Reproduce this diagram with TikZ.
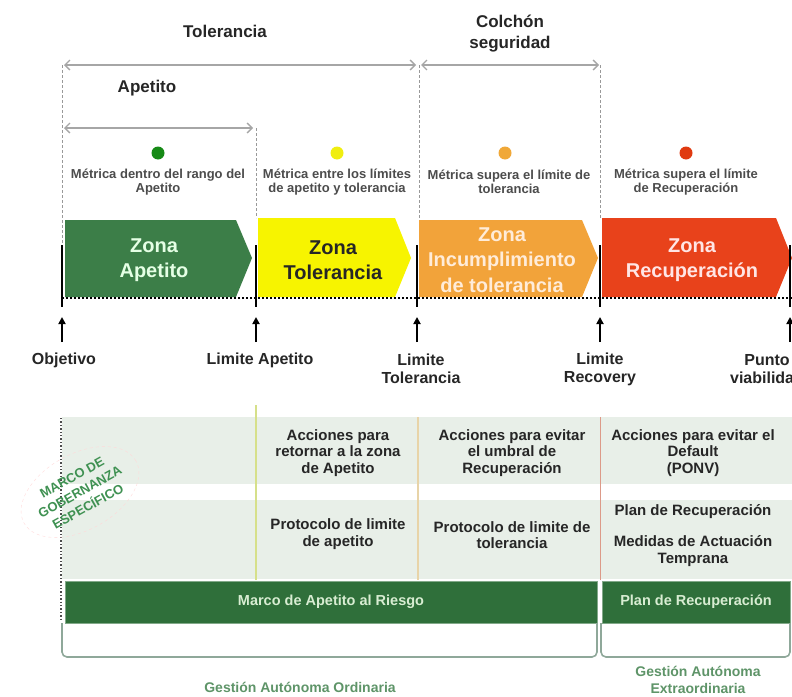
\documentclass[tikz,border=0pt]{standalone}
\usepackage{fontspec}
\setmainfont{Liberation Sans}
\usetikzlibrary{arrows.meta,shapes.geometric}
\definecolor{zgreen}{HTML}{3C7E48}
\definecolor{zyellow}{HTML}{F7F400}
\definecolor{zorange}{HTML}{F2A33A}
\definecolor{zred}{HTML}{E8421B}
\definecolor{dgreen}{HTML}{168A16}
\definecolor{dyellow}{HTML}{F0EE10}
\definecolor{dorange}{HTML}{F0A838}
\definecolor{dred}{HTML}{E03A10}
\definecolor{bandc}{HTML}{E8EFE8}
\definecolor{barg}{HTML}{2F6F3A}
\definecolor{bartxt}{HTML}{D8EDD2}
\definecolor{brkc}{HTML}{8FA89A}
\definecolor{gestc}{HTML}{5E9468}
\definecolor{govc}{HTML}{3F9152}
\definecolor{sepy}{HTML}{D6E08A}
\definecolor{sepo}{HTML}{E8D4A8}
\definecolor{sepr}{HTML}{DC9A88}
\begin{document}
\begin{tikzpicture}[x=1pt,y=-1pt,
  hdr/.style={font=\fontsize{17}{21}\selectfont\bfseries, text=black!85, align=center, inner sep=0pt},
  dimarrow/.style={draw=black!35, line width=1.3pt, {Straight Barb[length=5pt,width=10pt]}-{Straight Barb[length=5pt,width=10pt]}},
  guide/.style={draw=black!40, line width=0.6pt, dash pattern=on 3pt off 2pt},
  dotnode/.style={circle, minimum size=13pt, inner sep=0pt},
  desc/.style={font=\fontsize{13}{14.5}\selectfont\bfseries, text=black!70, align=center, inner sep=0pt},
  zonetxt/.style={font=\fontsize{20}{25.5}\selectfont\bfseries, align=center, inner sep=0pt},
  marker/.style={line width=2.6pt, draw=black},
  uparrow/.style={-{Triangle[length=7pt,width=7pt]}, line width=2.2pt, draw=black},
  lim/.style={font=\fontsize{16}{18}\selectfont\bfseries, text=black!85, align=center, inner sep=0pt},
  tbl/.style={font=\fontsize{15}{16.5}\selectfont\bfseries, text=black!85, align=center, inner sep=0pt},
  bar/.style={fill=barg, draw=barg!60!white, line width=0.8pt, text=bartxt, font=\fontsize{14.5}{17}\selectfont\bfseries, minimum height=42pt, inner sep=0pt},
  brk/.style={draw=brkc, line width=1.6pt, rounded corners=5pt},
  gest/.style={font=\fontsize{14}{17}\selectfont\bfseries, text=gestc, align=center, inner sep=0pt},
]
\useasboundingbox (0,0) rectangle (792,696);
\clip (0,0) rectangle (792,696);

% ---------- key coordinates ----------
\coordinate (tolL) at (64,65);   \coordinate (tolR) at (416,65);
\coordinate (colL) at (421,65);  \coordinate (colR) at (599,65);
\coordinate (apL)  at (64,128);  \coordinate (apR)  at (253,128);

% ---------- headings and dimension arrows ----------
\node[hdr] (hTol) at (225,31) {Tolerancia};
\node[hdr] (hCol) at (510,34) {Colchón\\seguridad};
\node[hdr] (hAp)  at (147,88) {Apetito};
\draw[dimarrow] (tolL) -- (tolR);
\draw[dimarrow] (colL) -- (colR);
\draw[dimarrow] (apL) -- (apR);

% guides
\draw[guide] (62,65) -- (62,245);
\draw[guide] (256,128) -- (256,218);
\draw[guide] (419,65) -- (419,218);
\draw[guide] (600,65) -- (600,218);

% ---------- dots and descriptions ----------
\node[dotnode, fill=dgreen]  (d1) at (158,153) {};
\node[dotnode, fill=dyellow] (d2) at (337,153) {};
\node[dotnode, fill=dorange] (d3) at (505,153) {};
\node[dotnode, fill=dred]    (d4) at (686,153) {};
\node[desc] (t1) at (158,182) {Métrica dentro del rango del\\Apetito};
\node[desc] (t2) at (337,182) {Métrica entre los límites\\de apetito y tolerancia};
\node[desc] (t3) at (509,182) {Métrica supera el límite de\\tolerancia};
\node[desc] (t4) at (686,182) {Métrica supera el límite\\de Recuperación};

% ---------- zones ----------
\fill[zgreen]  (65,220) -- (236,220) -- (252,258) -- (236,297) -- (65,297) -- cycle;
\fill[zyellow] (258,218) -- (395,218) -- (411,258) -- (395,297) -- (258,297) -- cycle;
\fill[zorange] (419,220) -- (582,220) -- (598,258) -- (582,297) -- (419,297) -- cycle;
\fill[zred]    (602,218) -- (776,218) -- (792,258) -- (776,297) -- (602,297) -- cycle;
\node[zonetxt, text=white!90!green] (z1) at (154,260) {Zona\\Apetito};
\node[zonetxt, text=black!85]       (z2) at (333,260) {Zona\\Tolerancia};
\node[zonetxt, text=white!85!orange] (z3) at (502,260) {Zona\\Incumplimiento\\de tolerancia};
\node[zonetxt, text=white!90!red]   (z4) at (692,260) {Zona\\Recuperación};

% dotted axis and markers
\draw[line width=2pt, dotted] (62,298) -- (792,298);
\draw[marker] (62,245) -- (62,307);
\draw[marker] (256,245) -- (256,307);
\draw[marker] (417,245) -- (417,307);
\draw[marker] (600,245) -- (600,307);
\draw[marker] (790,245) -- (790,307);

% up arrows
\coordinate (a1b) at (62,342);  \coordinate (a1t) at (62,317);
\coordinate (a2b) at (256,342); \coordinate (a2t) at (256,317);
\coordinate (a3b) at (417,342); \coordinate (a3t) at (417,317);
\coordinate (a4b) at (600,342); \coordinate (a4t) at (600,317);
\coordinate (a5b) at (790,342); \coordinate (a5t) at (790,317);
\draw[uparrow] (a1b) -- (a1t);
\draw[uparrow] (a2b) -- (a2t);
\draw[uparrow] (a3b) -- (a3t);
\draw[uparrow] (a4b) -- (a4t);
\draw[uparrow] (a5b) -- (a5t);

\node[lim] (l1) at (64,360)  {Objetivo};
\node[lim] (l2) at (260,360) {Limite Apetito};
\node[lim] (l3) at (421,369) {Limite\\Tolerancia};
\node[lim] (l4) at (600,369) {Limite\\Recovery};
\node[lim] (l5) at (767,369) {Punto\\viabilidad};

% ---------- table ----------
\fill[bandc] (62,417) rectangle (792,484);
\fill[bandc] (62,500) rectangle (792,579);
\draw[sepy, line width=1.4pt] (256,405) -- (256,580);
\draw[sepo, line width=1.4pt] (418,417) -- (418,580);
\draw[sepr, line width=0.9pt] (600,417) -- (600,580);
\draw[black!70, line width=1.4pt, dotted] (61,418) -- (61,620);

\node[tbl] (c21) at (338,453) {Acciones para\\retornar a la zona\\de Apetito};
\node[tbl] (c22) at (338,534) {Protocolo de limite\\de apetito};
\node[tbl] (c31) at (512,453) {Acciones para evitar\\el umbral de\\Recuperación};
\node[tbl] (c32) at (512,535) {Protocolo de limite de\\tolerancia};
\node[tbl] (c41) at (693,453) {Acciones para evitar el\\Default\\(PONV)};
\node[tbl] (c42) at (693,512) {Plan de Recuperación};
\node[tbl] (c43) at (693,551) {Medidas de Actuación\\Temprana};

% governance stamp
\node[draw=red!15, dashed, ellipse, rotate=29, minimum width=128pt, minimum height=76pt] (govframe) at (80,492) {};
\node[font=\fontsize{13}{16.5}\selectfont\bfseries, text=govc, align=center, rotate=29, inner sep=0pt] (gov) at (80,492) {MARCO DE\\GOBERNANZA\\ESPECÍFICO};

% green bars
\node[bar, minimum width=532pt] (marco) at (331,602) {Marco de Apetito al Riesgo};
\node[bar, minimum width=188pt] (plan) at (696,602) {Plan de Recuperación};

% brackets
\draw[brk] (62,623) -- (62,657) -- (597,657) -- (597,623);
\draw[brk] (601,623) -- (601,657) -- (790,657) -- (790,623);

\node[gest] (g1) at (300,687) {Gestión Autónoma Ordinaria};
\node[gest] (g2) at (698,680) {Gestión Autónoma\\Extraordinaria};
\end{tikzpicture}
\end{document}
